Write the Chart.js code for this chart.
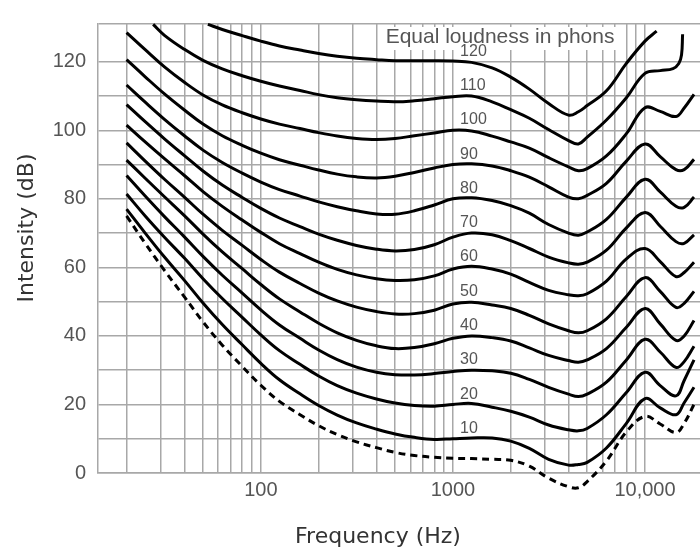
<!DOCTYPE html>
<html>
<head>
<meta charset="utf-8">
<script src="https://cdn.jsdelivr.net/npm/chart.js@4.4.1/dist/chart.umd.min.js"></script>
<style>
  html, body { margin: 0; padding: 0; background: #fff; }
</style>
</head>
<body>
<canvas id="myChart" width="700" height="550"></canvas>
<script>
// frequencies (Hz) shared by the 10..100 phon curves and the threshold
const freqs = [20, 25, 31.5, 40, 50, 63, 80, 100, 125, 160, 200, 250, 315, 400, 500, 630, 800,
  1000, 1250, 1600, 2000, 2500, 3150, 4000, 4500, 5000, 6300, 8000, 10000, 12000, 14500, 16000, 18000];
const freqs110 = [27.5, 31.5, 40, 50, 63, 80, 100, 125, 160, 200, 250, 315, 400, 500, 630, 800,
  1000, 1250, 1600, 2000, 2500, 3150, 4000, 4500, 5000, 6300, 8000, 10000, 12000, 14000, 15000, 15500, 15700];
const freqs120 = [53, 63, 80, 100, 125, 160, 200, 250, 315, 400, 500, 630, 800,
  1000, 1250, 1600, 2000, 2500, 3150, 4000, 4500, 5000, 6300, 8000, 10000, 11500];

// intensity (dB)
const db120 = [130.9, 129.4, 127.6, 126, 124.6, 123.4, 122.4, 121.6, 121, 120.6, 120.3, 120.3, 120.3,
  120.2, 119.8, 118.2, 115.5, 112, 107.8, 104.4, 105.4, 107.2, 111.5, 119.5, 126, 128.9];
const db110 = [130.9, 127.7, 123.6, 120.4, 117.9, 115.9, 114.3, 112.9, 111.6, 110.4, 109.5, 108.9, 108.5, 108.3, 108.6, 109.2,
  109.8, 110, 108.3, 106, 103.5, 100.2, 97, 96, 98, 103, 109.5, 116.6, 117.4, 118, 119.5, 122, 128];
const db100 = [128.5, 123.5, 118.5, 114, 110.3, 107.4, 105.1, 103.3, 101.8, 100.5, 99.3, 98.3, 97.6, 97.3, 97.6, 98.4, 99.2,
  100, 99.8, 98.3, 96.6, 94.8, 92, 89.3, 88.2, 88.8, 92.5, 99, 106.6, 105.5, 104, 106.5, 110.5];
const db90 = [120.6, 115.6, 110.6, 105.9, 101.8, 98.4, 95.6, 93.3, 91.4, 89.8, 88.4, 87.2, 86.4, 86.1, 86.6, 87.7, 89,
  90, 90.2, 89.6, 88.2, 86.3, 83.5, 80.5, 80, 81, 84.5, 91, 96, 92.3, 88.5, 88.5, 91.5];
const db80 = [113.2, 108.2, 103.2, 98.4, 94.2, 90.6, 87.5, 84.9, 82.7, 80.8, 79.1, 77.7, 76.5, 75.6, 75.5, 76.5, 78.2,
  80, 80.3, 79.5, 78, 75.8, 72.5, 70, 69.4, 70.3, 74, 80.5, 85.7, 82, 77.8, 77.5, 80.5];
const db70 = [107.5, 102.5, 97.5, 92.6, 88.1, 84, 80.4, 77.2, 74.4, 71.9, 69.7, 67.9, 66.4, 65.3, 64.8, 65.2, 66.6,
  68.8, 70, 69.5, 67.8, 65.5, 63, 61.3, 60.9, 61.5, 65, 71.5, 76, 72, 67.5, 67, 69.5];
const db60 = [101.5, 96.6, 91.7, 86.8, 82.1, 77.8, 73.8, 70.2, 66.9, 64, 61.5, 59.4, 57.8, 56.7, 56.2, 56.4, 57.5,
  59.5, 60.3, 59.5, 58, 55.6, 53.3, 52, 51.7, 52.3, 56, 62.5, 65.5, 61.7, 57.3, 58.5, 61.5];
const db50 = [96.3, 91, 85.7, 80.5, 75.5, 70.8, 66.4, 62.3, 58.6, 55.3, 52.5, 50.2, 48.4, 47.1, 46.4, 46.5, 47.5,
  49.3, 49.8, 49, 48, 46, 43.5, 41.5, 40.9, 41.5, 45, 51.5, 57, 53, 48.3, 49.5, 53];
const db40 = [91.3, 86, 80.6, 75.1, 69.7, 64.5, 59.6, 55, 50.8, 47, 43.7, 40.9, 38.7, 37.1, 36.3, 36.6, 37.7,
  39.3, 40, 39.5, 38.5, 36.5, 34.3, 32.8, 32.3, 33, 36.3, 42.5, 48, 43.5, 38.7, 40, 44.5];
const db30 = [86.8, 80.8, 74.8, 68.9, 63.2, 57.7, 52.5, 47.6, 43.2, 39.3, 35.9, 33.1, 30.9, 29.4, 28.7, 28.6, 29,
  29.6, 30, 29.8, 29.1, 27.3, 25, 23, 22.3, 23, 26.5, 33, 39, 35.3, 30.8, 32.5, 37];
const db20 = [81.4, 75, 68.8, 62.7, 56.7, 50.9, 45.4, 40.3, 35.7, 31.7, 28.3, 25.5, 23.3, 21.6, 20.4, 19.7, 19.5,
  20, 20.3, 19.2, 18, 16.3, 14, 12.6, 12.3, 13, 17, 23.5, 29.4, 25.5, 22.5, 27, 33];
const db10 = [77, 70, 63, 56.2, 49.6, 43.3, 37.4, 32, 27.2, 23.1, 19.7, 16.9, 14.6, 12.8, 11.4, 10.4, 9.8,
  10, 10.2, 10.2, 9.3, 7.2, 4, 2.3, 2.5, 3.1, 7.3, 14.5, 21.7, 19, 17, 20.5, 25];
const threshold = [75, 67, 59.1, 51.4, 44.1, 37.3, 31.1, 25.6, 20.9, 17, 13.8, 11.2, 9.1, 7.4, 6, 5.1, 4.6,
  4.3, 4.2, 4, 3.7, 2, -1.5, -4, -4.3, -2.5, 3.5, 12, 16.5, 14.3, 11.8, 14.5, 20];

const phonLevels = [120, 110, 100, 90, 80, 70, 60, 50, 40, 30, 20, 10];
const gridFreqs = [20, 30, 40, 50, 60, 70, 80, 90, 100, 200, 300, 400, 500, 600, 700, 800, 900,
  1000, 2000, 3000, 4000, 5000, 6000, 7000, 8000, 9000, 10000];
const freqLabels = { 100: "100", 1000: "1000", 10000: "10,000" };
const dbGrid = [0, 10, 20, 30, 40, 50, 60, 70, 80, 90, 100, 110, 120, 131];

const curves = [
  [freqs120, db120], [freqs110, db110], [freqs, db100], [freqs, db90], [freqs, db80], [freqs, db70],
  [freqs, db60], [freqs, db50], [freqs, db40], [freqs, db30], [freqs, db20], [freqs, db10],
];

function points(f, db) {
  return f.map((v, i) => ({ x: v, y: db[i] }));
}

const datasets = curves.map((c, i) => ({
  label: phonLevels[i] + " phons",
  data: points(c[0], c[1]),
  borderColor: "#000",
  borderWidth: 3,
  pointRadius: 0,
  tension: 0.4,
  clip: false,
}));
datasets.push({
  label: "Threshold",
  data: points(freqs, threshold),
  borderColor: "#000",
  borderWidth: 3,
  borderDash: [7, 5],
  pointRadius: 0,
  tension: 0.4,
  clip: false,
});

const gridColor = "#a8a8a8";

// heading, phon labels and axis titles
const overlay = {
  id: "overlay",
  beforeDatasetsDraw(chart) {
    const { ctx, scales: { x, y } } = chart;
    ctx.save();
    ctx.fillStyle = "#fff";
    const left = x.getPixelForValue(417);
    const right = x.getPixelForValue(7400);
    ctx.fillRect(left, y.top + 3, right - left, 23);
    ctx.fillStyle = "#555";
    ctx.font = "21px 'Liberation Sans', Arial, sans-serif";
    ctx.textAlign = "center";
    ctx.textBaseline = "alphabetic";
    ctx.fillText("Equal loudness in phons", x.getPixelForValue(1760), y.top + 19);
    ctx.restore();
  },
  afterDatasetsDraw(chart) {
    const { ctx, scales: { x, y } } = chart;
    ctx.save();
    ctx.fillStyle = "#555";
    ctx.font = "16px 'Liberation Sans', Arial, sans-serif";
    ctx.textAlign = "left";
    ctx.textBaseline = "middle";
    phonLevels.forEach((p) => {
      ctx.fillText(String(p), x.getPixelForValue(1090), y.getPixelForValue(p + 3));
    });
    ctx.fillStyle = "#333";
    ctx.font = "22px 'DejaVu Sans', sans-serif";
    ctx.textAlign = "center";
    ctx.textBaseline = "alphabetic";
    ctx.fillText("Frequency (Hz)", x.left + 280, 543);
    ctx.translate(33, 228);
    ctx.rotate(-Math.PI / 2);
    ctx.fillText("Intensity (dB)", 0, 0);
    ctx.restore();
  },
};

const config = {
  type: "line",
  data: { datasets: datasets },
  options: {
    responsive: false,
    animation: false,
    layout: { padding: { top: 14, right: 0, left: 0, bottom: 0 } },
    plugins: { legend: { display: false }, tooltip: { enabled: false } },
    scales: {
      x: {
        type: "logarithmic",
        min: 14.2,
        max: 19340,
        afterBuildTicks: (axis) => {
          axis.ticks = gridFreqs.map((v) => ({ value: v }));
        },
        afterFit: (axis) => {
          axis.height = 77;
        },
        grid: { color: gridColor, lineWidth: 1.5, drawTicks: false },
        border: { color: gridColor, width: 1.5 },
        ticks: {
          autoSkip: false,
          maxRotation: 0,
          padding: 5,
          color: "#555",
          font: { size: 20, family: "'Liberation Sans', Arial, sans-serif" },
          callback: (value) => freqLabels[value] || "",
        },
      },
      y: {
        min: 0,
        max: 131,
        afterBuildTicks: (axis) => {
          axis.ticks = dbGrid.map((v) => ({ value: v }));
        },
        afterFit: (axis) => {
          axis.width = 98;
        },
        grid: { color: gridColor, lineWidth: 1.5, drawTicks: false },
        border: { color: gridColor, width: 1.5 },
        ticks: {
          padding: 12,
          color: "#555",
          font: { size: 20, family: "'Liberation Sans', Arial, sans-serif" },
          callback: (value) => (value % 20 === 0 && value <= 120 ? value : ""),
        },
      },
    },
  },
  plugins: [overlay],
};

let myChart = new Chart(document.getElementById("myChart"), config);
</script>
</body>
</html>
